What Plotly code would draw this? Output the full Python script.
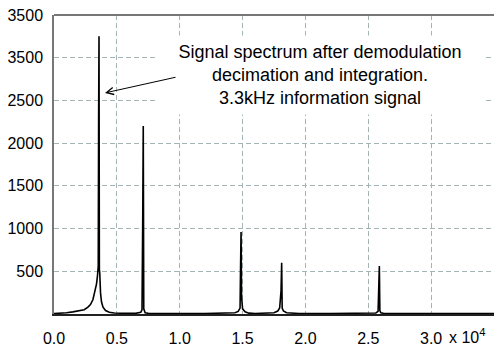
import plotly.graph_objects as go

# Spectrum samples (frequency in Hz, amplitude)
freq_hz = [0, 500, 1000, 1500, 2000, 2400, 2700, 2900, 3100, 3250, 3380, 3460, 3520,
           3550, 3580, 3610, 3640, 3700, 3780, 3900, 4100, 4400, 4800, 5500,
           6500, 6900, 7000, 7060, 7100, 7140, 7250, 7500, 8000,
           10000, 12000, 14000, 14400, 14650, 14800, 14840, 14880, 14920, 15000, 15200, 15500, 16000,
           17000, 17500, 17800, 17950, 18060, 18110, 18150, 18250, 18500, 18900, 19500,
           22000, 25000, 25600, 25780, 25840, 25880, 25920, 26000, 26200, 27000,
           30000, 33000, 35500]
amplitude = [5, 8, 15, 25, 35, 50, 80, 110, 170, 260, 350, 450, 560,
             2280, 3250, 520, 480, 250, 140, 80, 40, 20, 12, 8,
             8, 20, 50, 1140, 2200, 60, 15, 8, 6,
             6, 6, 8, 14, 30, 70, 550, 960, 200, 60, 25, 10, 6,
             8, 15, 35, 70, 270, 600, 70, 35, 15, 8, 6,
             6, 6, 12, 30, 300, 562, 40, 15, 8, 6,
             6, 6, 6]

x_tickvals = [0, 5000, 10000, 15000, 20000, 25000, 30000]
x_ticktext = ["0.0", "0.5", "1.0", "1.5", "2.0", "2.5", "3.0"]
y_tickvals = [500, 1000, 1500, 2000, 2500, 3000, 3500]
y_ticktext = ["500", "1000", "1500", "2000", "2500", "3500", "3500"]

note_text = ("Signal spectrum after demodulation<br>"
             "decimation and integration.<br>"
             "3.3kHz information signal")

fig = go.Figure()
fig.add_trace(go.Scatter(x=freq_hz, y=amplitude, mode="lines",
                         line=dict(color="black", width=1.6),
                         hoverinfo="skip", showlegend=False))

grid_color = "#a3b5b5"
font = dict(family="Liberation Sans, Arial, sans-serif", size=16, color="black")

fig.update_layout(
    width=494, height=344,
    margin=dict(l=54, r=0, t=15, b=30, autoexpand=False),
    paper_bgcolor="white", plot_bgcolor="white",
    font=font,
    showlegend=False,
    xaxis=dict(range=[0, 35000], tickvals=x_tickvals, ticktext=x_ticktext,
               showgrid=True, gridcolor=grid_color, griddash="5px,3px", gridwidth=1,
               showline=True, linecolor="#222222", linewidth=2, automargin=False,
               zeroline=False, ticks="outside", ticklen=9, tickcolor="rgba(0,0,0,0)"),
    yaxis=dict(range=[0, 3500], tickvals=y_tickvals, ticktext=y_ticktext,
               showgrid=True, gridcolor=grid_color, griddash="5px,3px", gridwidth=1,
               showline=True, linecolor="#777777", linewidth=1.5, automargin=False,
               zeroline=False, ticks="", ticklabelstandoff=6),
    shapes=[dict(type="line", xref="paper", yref="paper", x0=0, x1=1, y0=1, y1=1,
                 line=dict(color="#777777", width=2))],
)

fig.add_annotation(x=21160, y=2800, xref="x", yref="y", text=note_text,
                   showarrow=False, bgcolor="white", width=326, height=78,
                   borderpad=0, align="center", valign="middle",
                   font=dict(family="Liberation Sans, Arial, sans-serif", size=18, color="black"))
fig.add_annotation(x=4057, y=2588, xref="x", yref="y", ax=9785, ay=2775,
                   axref="x", ayref="y", text="", showarrow=True,
                   arrowhead=5, arrowsize=1.4, arrowwidth=1, arrowcolor="black",
                   standoff=0, startstandoff=0)
fig.add_annotation(x=(447 - 54) / 440, y=0, xref="paper", yref="paper",
                   text="x 10<sup>4</sup>",
                   showarrow=False, xanchor="left", yanchor="top", yshift=-10,
                   font=font)

fig.write_html("out.html", config={"displayModeBar": False},
               post_script="document.body.style.margin='0';document.body.style.overflow='hidden';")
